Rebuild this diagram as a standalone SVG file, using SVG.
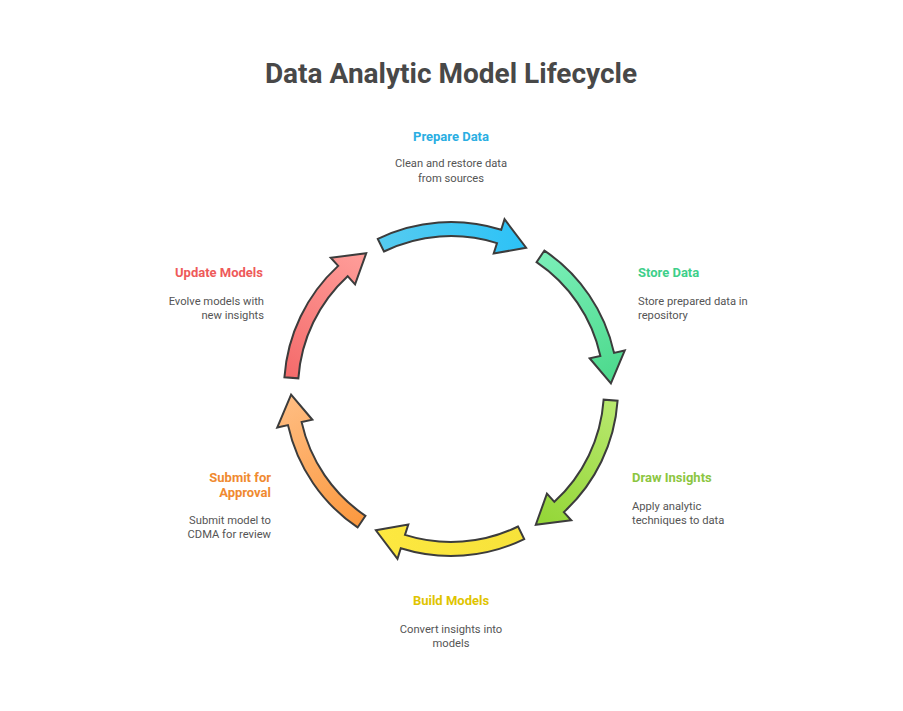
<svg xmlns="http://www.w3.org/2000/svg" width="903" height="711" viewBox="0 0 903 711">
  <style>
    .title { font-family: Roboto, "Liberation Sans", sans-serif; font-weight: 700; font-size: 28px; fill: #484848; }
    .head { font-family: Roboto, "Liberation Sans", sans-serif; font-weight: 700; font-size: 13px; }
    .desc { font-family: Roboto, "Liberation Sans", sans-serif; font-size: 11.2px; fill: #555555; }
    .arrow { stroke: #3c3c3c; stroke-width: 2; stroke-linejoin: miter; }
  </style>
  <defs>
    <path id="arc" d="M98.16,-135.10 A167,167 0 0 1 164.20,-30.43 L175.02,-32.44 L160,0 L139.62,-25.88 L150.44,-27.88 A153,153 0 0 0 89.93,-123.78 Z"/>
    <linearGradient id="gBlue" gradientUnits="userSpaceOnUse" x1="94" y1="-130" x2="160" y2="0">
      <stop offset="0" stop-color="#55cbf0"/><stop offset="1" stop-color="#2cc2f7"/>
    </linearGradient>
    <linearGradient id="gGreen" gradientUnits="userSpaceOnUse" x1="94" y1="-130" x2="160" y2="0">
      <stop offset="0" stop-color="#7aefb8"/><stop offset="1" stop-color="#4cd98c"/>
    </linearGradient>
    <linearGradient id="gLime" gradientUnits="userSpaceOnUse" x1="94" y1="-130" x2="160" y2="0">
      <stop offset="0" stop-color="#b8e86e"/><stop offset="1" stop-color="#93d636"/>
    </linearGradient>
    <linearGradient id="gYellow" gradientUnits="userSpaceOnUse" x1="94" y1="-130" x2="160" y2="0">
      <stop offset="0" stop-color="#f7e23a"/><stop offset="1" stop-color="#fde840"/>
    </linearGradient>
    <linearGradient id="gOrange" gradientUnits="userSpaceOnUse" x1="94" y1="-130" x2="160" y2="0">
      <stop offset="0" stop-color="#fb9940"/><stop offset="1" stop-color="#ffbd82"/>
    </linearGradient>
    <linearGradient id="gRed" gradientUnits="userSpaceOnUse" x1="94" y1="-130" x2="160" y2="0">
      <stop offset="0" stop-color="#f46b6b"/><stop offset="1" stop-color="#ff9e9a"/>
    </linearGradient>
  </defs>
  <rect width="903" height="711" fill="#ffffff"/>
  <text class="title" x="451" y="83" text-anchor="middle">Data Analytic Model Lifecycle</text>

  <g id="connectors">
    <use href="#arc" class="arrow" fill="url(#gBlue)" transform="translate(451,389) rotate(-62)"/>
    <use href="#arc" class="arrow" fill="url(#gGreen)" transform="translate(451,389) rotate(-2)"/>
    <use href="#arc" class="arrow" fill="url(#gLime)" transform="translate(451,389) rotate(58)"/>
    <use href="#arc" class="arrow" fill="url(#gYellow)" transform="translate(451,389) rotate(118)"/>
    <use href="#arc" class="arrow" fill="url(#gOrange)" transform="translate(451,389) rotate(178)"/>
    <use href="#arc" class="arrow" fill="url(#gRed)" transform="translate(451,389) rotate(238)"/>
  </g>

  <g id="prepare-data">
    <text class="head" x="451" y="141" text-anchor="middle" fill="#2aaee2">Prepare Data</text>
    <text class="desc" x="451" y="167" text-anchor="middle">Clean and restore data</text>
    <text class="desc" x="451" y="182" text-anchor="middle">from sources</text>
  </g>
  <g id="store-data">
    <text class="head" x="638" y="277" fill="#3ecf8a">Store Data</text>
    <text class="desc" x="638" y="305">Store prepared data in</text>
    <text class="desc" x="638" y="319">repository</text>
  </g>
  <g id="draw-insights">
    <text class="head" x="632" y="482" fill="#8cc63f">Draw Insights</text>
    <text class="desc" x="632" y="510">Apply analytic</text>
    <text class="desc" x="632" y="524">techniques to data</text>
  </g>
  <g id="build-models">
    <text class="head" x="451" y="605" text-anchor="middle" fill="#e0c400">Build Models</text>
    <text class="desc" x="451" y="633" text-anchor="middle">Convert insights into</text>
    <text class="desc" x="451" y="647" text-anchor="middle">models</text>
  </g>
  <g id="submit-approval">
    <text class="head" x="271" y="482" text-anchor="end" fill="#f08a30">Submit for</text>
    <text class="head" x="271" y="497" text-anchor="end" fill="#f08a30">Approval</text>
    <text class="desc" x="271" y="524" text-anchor="end">Submit model to</text>
    <text class="desc" x="271" y="538" text-anchor="end">CDMA for review</text>
  </g>
  <g id="update-models">
    <text class="head" x="263" y="277" text-anchor="end" fill="#ee5a5a">Update Models</text>
    <text class="desc" x="264" y="305" text-anchor="end">Evolve models with</text>
    <text class="desc" x="264" y="319" text-anchor="end">new insights</text>
  </g>
</svg>
